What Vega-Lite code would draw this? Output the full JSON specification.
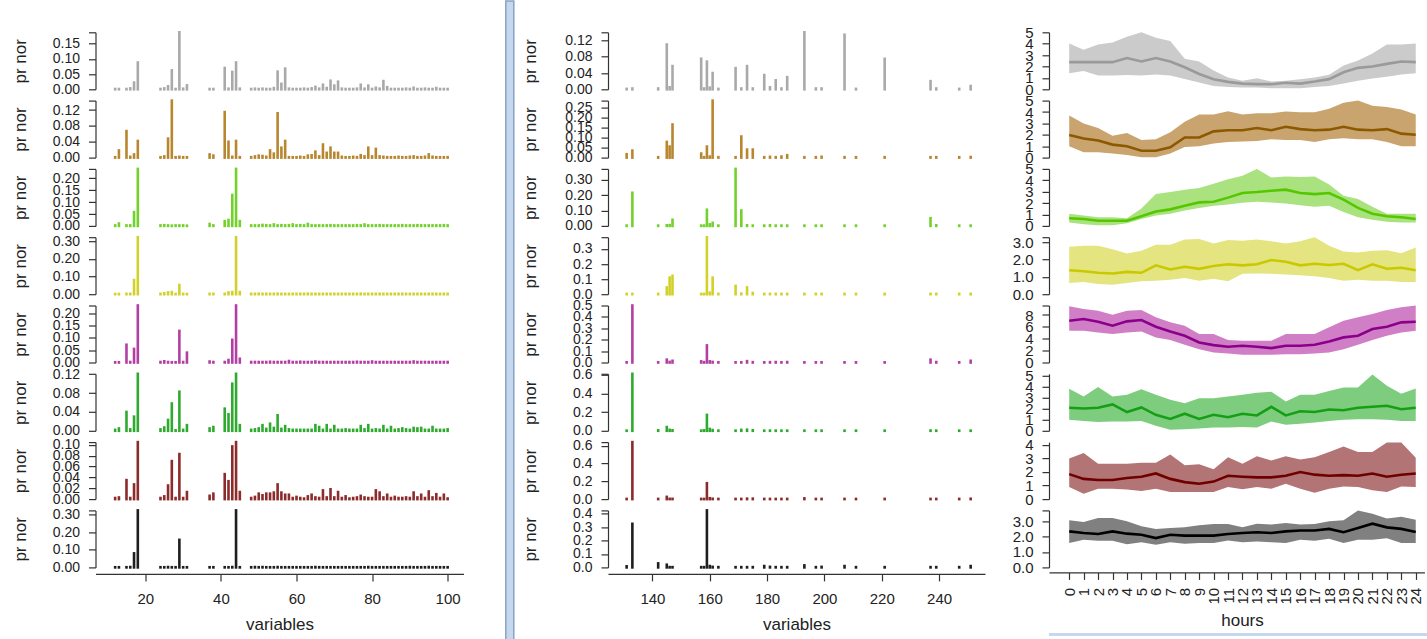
{
"$schema":"https://vega.github.io/schema/vega-lite/v6.json",
"background":"white",
"padding":{"left":11.5,"top":0,"right":0,"bottom":0},
"config":{
"font":"Liberation Sans",
"view":{"stroke":null},
"axis":{"grid":false,"labelOverlap":false,"labelFlush":false,"labelColor":"#222","titleColor":"#222","domainColor":"#333","tickColor":"#333","domainWidth":1.2,"tickWidth":1.2,"titleFontWeight":"normal","labelFont":"Liberation Sans","titleFont":"Liberation Sans"},
"axisY":{"labelOverlap":false,"labelFontSize":14,"titleFontSize":17,"tickSize":7,"labelPadding":9,"titleAngle":270,"titleAlign":"center","titleBaseline":"middle"},
"axisX":{"labelOverlap":false,"labelFontSize":15,"titleFontSize":17,"tickSize":7,"labelPadding":11,"titlePadding":10}
},
"datasets":{
"L":[
{"v":12,"r1":0.001,"r2":0.001,"r3":0.002,"r4":0.001,"r5":0.001,"r6":0.002,"r7":0.002,"r8":0.001},
{"v":13,"r1":0.001,"r2":0.018,"r3":0.01,"r4":0.001,"r5":0.001,"r6":0.005,"r7":0.003,"r8":0.001},
{"v":15,"r1":0.001,"r2":0.067,"r3":0.002,"r4":0.002,"r5":0.072,"r6":0.04,"r7":0.035,"r8":0.001},
{"v":16,"r1":0.003,"r2":0.002,"r3":0.002,"r4":0.002,"r5":0.002,"r6":0.003,"r7":0.002,"r8":0.002},
{"v":17,"r1":0.022,"r2":0.008,"r3":0.058,"r4":0.08,"r5":0.055,"r6":0.03,"r7":0.027,"r8":0.08},
{"v":18,"r1":0.088,"r2":0.042,"r3":0.24,"r4":0.323,"r5":0.231,"r6":0.121,"r7":0.105,"r8":0.325},
{"v":24,"r1":0.001,"r2":0.001,"r3":0.002,"r4":0.002,"r5":0.002,"r6":0.003,"r7":0.002,"r8":0.001},
{"v":25,"r1":0.003,"r2":0.003,"r3":0.003,"r4":0.005,"r5":0.005,"r6":0.007,"r7":0.005,"r8":0.001},
{"v":26,"r1":0.01,"r2":0.048,"r3":0.002,"r4":0.01,"r5":0.002,"r6":0.023,"r7":0.025,"r8":0.002},
{"v":27,"r1":0.062,"r2":0.144,"r3":0.001,"r4":0.012,"r5":0.001,"r6":0.058,"r7":0.07,"r8":0.001},
{"v":28,"r1":0.001,"r2":0.001,"r3":0.002,"r4":0.001,"r5":0.001,"r6":0.001,"r7":0.002,"r8":0.001},
{"v":29,"r1":0.187,"r2":0.002,"r3":0.002,"r4":0.052,"r5":0.128,"r6":0.083,"r7":0.083,"r8":0.157},
{"v":30,"r1":0.002,"r2":0.001,"r3":0.002,"r4":0.002,"r5":0.002,"r6":0.002,"r7":0.002,"r8":0.001},
{"v":31,"r1":0.013,"r2":0.001,"r3":0.001,"r4":0.001,"r5":0.04,"r6":0.012,"r7":0.013,"r8":0.001},
{"v":37,"r1":0.001,"r2":0.008,"r3":0.008,"r4":0.002,"r5":0.004,"r6":0.005,"r7":0.006,"r8":0.001},
{"v":38,"r1":0.001,"r2":0.005,"r3":0.002,"r4":0.002,"r5":0.002,"r6":0.008,"r7":0.01,"r8":0.001},
{"v":41,"r1":0.07,"r2":0.115,"r3":0.02,"r4":0.002,"r5":0.002,"r6":0.047,"r7":0.046,"r8":0.001},
{"v":42,"r1":0.002,"r2":0.04,"r3":0.025,"r4":0.01,"r5":0.01,"r6":0.035,"r7":0.033,"r8":0.001},
{"v":43,"r1":0.057,"r2":0.002,"r3":0.13,"r4":0.012,"r5":0.092,"r6":0.1,"r7":0.097,"r8":0.002},
{"v":44,"r1":0.088,"r2":0.042,"r3":0.24,"r4":0.323,"r5":0.231,"r6":0.121,"r7":0.105,"r8":0.325},
{"v":45,"r1":0.002,"r2":0.001,"r3":0.02,"r4":0.012,"r5":0.015,"r6":0.012,"r7":0.013,"r8":0.001},
{"v":48,"r1":0.001,"r2":0.001,"r3":0.002,"r4":0.002,"r5":0.002,"r6":0.002,"r7":0.002,"r8":0.001},
{"v":49,"r1":0.002,"r2":0.003,"r3":0.002,"r4":0.002,"r5":0.002,"r6":0.003,"r7":0.004,"r8":0.002},
{"v":50,"r1":0.001,"r2":0.005,"r3":0.002,"r4":0.003,"r5":0.002,"r6":0.005,"r7":0.01,"r8":0.001},
{"v":51,"r1":0.002,"r2":0.004,"r3":0.004,"r4":0.002,"r5":0.002,"r6":0.012,"r7":0.007,"r8":0.002},
{"v":52,"r1":0.001,"r2":0.002,"r3":0.003,"r4":0.002,"r5":0.002,"r6":0.004,"r7":0.01,"r8":0.001},
{"v":53,"r1":0.001,"r2":0.018,"r3":0.002,"r4":0.002,"r5":0.003,"r6":0.015,"r7":0.01,"r8":0.001},
{"v":54,"r1":0.004,"r2":0.01,"r3":0.006,"r4":0.002,"r5":0.002,"r6":0.006,"r7":0.012,"r8":0.001},
{"v":55,"r1":0.058,"r2":0.112,"r3":0.002,"r4":0.003,"r5":0.002,"r6":0.033,"r7":0.027,"r8":0.002},
{"v":56,"r1":0.018,"r2":0.025,"r3":0.003,"r4":0.002,"r5":0.002,"r6":0.004,"r7":0.012,"r8":0.001},
{"v":57,"r1":0.068,"r2":0.042,"r3":0.002,"r4":0.002,"r5":0.002,"r6":0.01,"r7":0.008,"r8":0.001},
{"v":58,"r1":0.002,"r2":0.001,"r3":0.003,"r4":0.002,"r5":0.006,"r6":0.003,"r7":0.008,"r8":0.001},
{"v":59,"r1":0.001,"r2":0.001,"r3":0.006,"r4":0.002,"r5":0.002,"r6":0.002,"r7":0.002,"r8":0.001},
{"v":60,"r1":0.001,"r2":0.001,"r3":0.002,"r4":0.002,"r5":0.002,"r6":0.002,"r7":0.004,"r8":0.001},
{"v":61,"r1":0.001,"r2":0.002,"r3":0.003,"r4":0.002,"r5":0.003,"r6":0.002,"r7":0.002,"r8":0.001},
{"v":62,"r1":0.002,"r2":0.001,"r3":0.002,"r4":0.002,"r5":0.002,"r6":0.002,"r7":0.001,"r8":0.001},
{"v":63,"r1":0.001,"r2":0.005,"r3":0.008,"r4":0.003,"r5":0.002,"r6":0.002,"r7":0.005,"r8":0.001},
{"v":64,"r1":0.003,"r2":0.006,"r3":0.002,"r4":0.002,"r5":0.002,"r6":0.002,"r7":0.008,"r8":0.001},
{"v":65,"r1":0.008,"r2":0.015,"r3":0.002,"r4":0.002,"r5":0.004,"r6":0.012,"r7":0.003,"r8":0.002},
{"v":66,"r1":0.002,"r2":0.003,"r3":0.002,"r4":0.002,"r5":0.002,"r6":0.008,"r7":0.002,"r8":0.001},
{"v":67,"r1":0.015,"r2":0.033,"r3":0.002,"r4":0.002,"r5":0.002,"r6":0.002,"r7":0.016,"r8":0.001},
{"v":68,"r1":0.004,"r2":0.012,"r3":0.002,"r4":0.002,"r5":0.002,"r6":0.012,"r7":0.003,"r8":0.001},
{"v":69,"r1":0.028,"r2":0.025,"r3":0.003,"r4":0.002,"r5":0.002,"r6":0.002,"r7":0.018,"r8":0.001},
{"v":70,"r1":0.012,"r2":0.012,"r3":0.002,"r4":0.002,"r5":0.002,"r6":0.01,"r7":0.003,"r8":0.001},
{"v":71,"r1":0.025,"r2":0.012,"r3":0.002,"r4":0.002,"r5":0.002,"r6":0.002,"r7":0.013,"r8":0.001},
{"v":72,"r1":0.002,"r2":0.002,"r3":0.002,"r4":0.002,"r5":0.002,"r6":0.002,"r7":0.002,"r8":0.001},
{"v":73,"r1":0.001,"r2":0.001,"r3":0.002,"r4":0.002,"r5":0.002,"r6":0.003,"r7":0.005,"r8":0.001},
{"v":74,"r1":0.001,"r2":0.001,"r3":0.002,"r4":0.002,"r5":0.002,"r6":0.002,"r7":0.001,"r8":0.001},
{"v":75,"r1":0.001,"r2":0.002,"r3":0.002,"r4":0.002,"r5":0.002,"r6":0.002,"r7":0.002,"r8":0.001},
{"v":76,"r1":0.002,"r2":0.001,"r3":0.003,"r4":0.002,"r5":0.003,"r6":0.002,"r7":0.003,"r8":0.001},
{"v":77,"r1":0.015,"r2":0.006,"r3":0.002,"r4":0.003,"r5":0.002,"r6":0.01,"r7":0.006,"r8":0.001},
{"v":78,"r1":0.002,"r2":0.003,"r3":0.006,"r4":0.002,"r5":0.002,"r6":0.003,"r7":0.003,"r8":0.001},
{"v":79,"r1":0.012,"r2":0.025,"r3":0.002,"r4":0.002,"r5":0.002,"r6":0.012,"r7":0.002,"r8":0.002},
{"v":80,"r1":0.001,"r2":0.003,"r3":0.002,"r4":0.002,"r5":0.004,"r6":0.002,"r7":0.002,"r8":0.001},
{"v":81,"r1":0.005,"r2":0.022,"r3":0.002,"r4":0.002,"r5":0.002,"r6":0.003,"r7":0.016,"r8":0.001},
{"v":82,"r1":0.002,"r2":0.003,"r3":0.003,"r4":0.002,"r5":0.002,"r6":0.002,"r7":0.012,"r8":0.001},
{"v":83,"r1":0.027,"r2":0.002,"r3":0.002,"r4":0.002,"r5":0.002,"r6":0.01,"r7":0.003,"r8":0.001},
{"v":84,"r1":0.007,"r2":0.001,"r3":0.002,"r4":0.002,"r5":0.002,"r6":0.002,"r7":0.008,"r8":0.001},
{"v":85,"r1":0.001,"r2":0.001,"r3":0.002,"r4":0.002,"r5":0.002,"r6":0.008,"r7":0.002,"r8":0.001},
{"v":86,"r1":0.001,"r2":0.001,"r3":0.002,"r4":0.002,"r5":0.002,"r6":0.002,"r7":0.004,"r8":0.001},
{"v":87,"r1":0.001,"r2":0.002,"r3":0.002,"r4":0.002,"r5":0.002,"r6":0.003,"r7":0.002,"r8":0.001},
{"v":88,"r1":0.001,"r2":0.001,"r3":0.003,"r4":0.002,"r5":0.002,"r6":0.005,"r7":0.002,"r8":0.001},
{"v":89,"r1":0.002,"r2":0.001,"r3":0.002,"r4":0.002,"r5":0.002,"r6":0.003,"r7":0.003,"r8":0.001},
{"v":90,"r1":0.001,"r2":0.002,"r3":0.002,"r4":0.002,"r5":0.002,"r6":0.002,"r7":0.002,"r8":0.002},
{"v":91,"r1":0.005,"r2":0.003,"r3":0.002,"r4":0.002,"r5":0.004,"r6":0.006,"r7":0.012,"r8":0.001},
{"v":92,"r1":0.001,"r2":0.001,"r3":0.003,"r4":0.002,"r5":0.002,"r6":0.005,"r7":0.003,"r8":0.001},
{"v":93,"r1":0.001,"r2":0.001,"r3":0.002,"r4":0.002,"r5":0.002,"r6":0.006,"r7":0.008,"r8":0.001},
{"v":94,"r1":0.002,"r2":0.002,"r3":0.002,"r4":0.002,"r5":0.002,"r6":0.002,"r7":0.002,"r8":0.001},
{"v":95,"r1":0.001,"r2":0.008,"r3":0.002,"r4":0.002,"r5":0.002,"r6":0.002,"r7":0.014,"r8":0.002},
{"v":96,"r1":0.001,"r2":0.002,"r3":0.002,"r4":0.002,"r5":0.002,"r6":0.008,"r7":0.003,"r8":0.001},
{"v":97,"r1":0.004,"r2":0.001,"r3":0.002,"r4":0.002,"r5":0.002,"r6":0.002,"r7":0.009,"r8":0.001},
{"v":98,"r1":0.001,"r2":0.001,"r3":0.002,"r4":0.002,"r5":0.002,"r6":0.002,"r7":0.002,"r8":0.001},
{"v":99,"r1":0.001,"r2":0.001,"r3":0.003,"r4":0.002,"r5":0.002,"r6":0.002,"r7":0.008,"r8":0.001},
{"v":100,"r1":0.001,"r2":0.001,"r3":0.002,"r4":0.002,"r5":0.002,"r6":0.003,"r7":0.001,"r8":0.001}
],
"M":[
{"v":131,"r1":0.001,"r2":0.017,"r3":0.002,"r4":0.002,"r5":0.002,"r6":0.002,"r7":0.002,"r8":0.008},
{"v":133,"r1":0.002,"r2":0.035,"r3":0.215,"r4":0.002,"r5":0.5,"r6":0.61,"r7":0.64,"r8":0.325},
{"v":142,"r1":0.002,"r2":0.002,"r3":0.002,"r4":0.002,"r5":0.002,"r6":0.005,"r7":0.002,"r8":0.03},
{"v":145,"r1":0.11,"r2":0.078,"r3":0.004,"r4":0.045,"r5":0.025,"r6":0.04,"r7":0.025,"r8":0.02},
{"v":146,"r1":0.005,"r2":0.055,"r3":0.005,"r4":0.11,"r5":0.005,"r6":0.01,"r7":0.003,"r8":0.002},
{"v":147,"r1":0.057,"r2":0.165,"r3":0.04,"r4":0.122,"r5":0.015,"r6":0.005,"r7":0.003,"r8":0.002},
{"v":157,"r1":0.075,"r2":0.02,"r3":0.002,"r4":0.002,"r5":0.01,"r6":0.002,"r7":0.002,"r8":0.002},
{"v":158,"r1":0.002,"r2":0.002,"r3":0.002,"r4":0.002,"r5":0.003,"r6":0.005,"r7":0.002,"r8":0.002},
{"v":159,"r1":0.068,"r2":0.055,"r3":0.105,"r4":0.378,"r5":0.15,"r6":0.17,"r7":0.178,"r8":0.425},
{"v":160,"r1":0.004,"r2":0.005,"r3":0.01,"r4":0.01,"r5":0.01,"r6":0.02,"r7":0.01,"r8":0.01},
{"v":161,"r1":0.04,"r2":0.284,"r3":0.02,"r4":0.11,"r5":0.005,"r6":0.008,"r7":0.004,"r8":0.004},
{"v":163,"r1":0.001,"r2":0.002,"r3":0.002,"r4":0.002,"r5":0.002,"r6":0.002,"r7":0.002,"r8":0.002},
{"v":169,"r1":0.052,"r2":0.002,"r3":0.37,"r4":0.055,"r5":0.002,"r6":0.002,"r7":0.002,"r8":0.002},
{"v":171,"r1":0.002,"r2":0.105,"r3":0.1,"r4":0.004,"r5":0.002,"r6":0.01,"r7":0.002,"r8":0.002},
{"v":173,"r1":0.057,"r2":0.04,"r3":0.004,"r4":0.045,"r5":0.012,"r6":0.012,"r7":0.005,"r8":0.002},
{"v":175,"r1":0.002,"r2":0.04,"r3":0.002,"r4":0.008,"r5":0.003,"r6":0.006,"r7":0.005,"r8":0.002},
{"v":179,"r1":0.035,"r2":0.002,"r3":0.002,"r4":0.002,"r5":0.002,"r6":0.002,"r7":0.002,"r8":0.01},
{"v":181,"r1":0.005,"r2":0.004,"r3":0.004,"r4":0.002,"r5":0.003,"r6":0.002,"r7":0.002,"r8":0.004},
{"v":183,"r1":0.022,"r2":0.002,"r3":0.002,"r4":0.002,"r5":0.004,"r6":0.002,"r7":0.002,"r8":0.002},
{"v":185,"r1":0.002,"r2":0.005,"r3":0.002,"r4":0.002,"r5":0.002,"r6":0.002,"r7":0.002,"r8":0.002},
{"v":187,"r1":0.03,"r2":0.012,"r3":0.002,"r4":0.002,"r5":0.004,"r6":0.002,"r7":0.002,"r8":0.002},
{"v":193,"r1":0.14,"r2":0.002,"r3":0.002,"r4":0.002,"r5":0.002,"r6":0.002,"r7":0.008,"r8":0.015},
{"v":197,"r1":0.002,"r2":0.002,"r3":0.002,"r4":0.002,"r5":0.002,"r6":0.002,"r7":0.002,"r8":0.002},
{"v":199,"r1":0.002,"r2":0.004,"r3":0.002,"r4":0.002,"r5":0.002,"r6":0.002,"r7":0.002,"r8":0.004},
{"v":207,"r1":0.134,"r2":0.002,"r3":0.002,"r4":0.002,"r5":0.002,"r6":0.002,"r7":0.002,"r8":0.01},
{"v":211,"r1":0.001,"r2":0.002,"r3":0.002,"r4":0.002,"r5":0.002,"r6":0.002,"r7":0.002,"r8":0.002},
{"v":221,"r1":0.075,"r2":0.002,"r3":0.002,"r4":0.002,"r5":0.002,"r6":0.002,"r7":0.002,"r8":0.002},
{"v":237,"r1":0.02,"r2":0.002,"r3":0.05,"r4":0.002,"r5":0.025,"r6":0.003,"r7":0.002,"r8":0.002},
{"v":239,"r1":0.002,"r2":0.002,"r3":0.004,"r4":0.002,"r5":0.004,"r6":0.002,"r7":0.002,"r8":0.002},
{"v":247,"r1":0.001,"r2":0.002,"r3":0.002,"r4":0.002,"r5":0.002,"r6":0.002,"r7":0.002,"r8":0.002},
{"v":251,"r1":0.008,"r2":0.003,"r3":0.002,"r4":0.002,"r5":0.015,"r6":0.002,"r7":0.004,"r8":0.01}
],
"H":[
{"h":0,"m1":2.38,"l1":1.4,"u1":4.02,"m2":1.98,"l2":0.99,"u2":3.7,"m3":0.67,"l3":0.3,"u3":1.06,"m4":1.39,"l4":0.65,"u4":2.75,"m5":7.04,"l5":5.35,"u5":9.46,"m6":2.1,"l6":1.0,"u6":3.84,"m7":1.84,"l7":0.89,"u7":3.0,"m8":2.34,"l8":1.58,"u8":3.06},
{"h":1,"m1":2.38,"l1":1.6,"u1":3.48,"m2":1.67,"l2":0.46,"u2":2.99,"m3":0.61,"l3":0.15,"u3":0.91,"m4":1.33,"l4":0.71,"u4":2.8,"m5":7.32,"l5":5.35,"u5":9.01,"m6":2.03,"l6":0.9,"u6":3.14,"m7":1.49,"l7":0.4,"u7":3.4,"m8":2.23,"l8":1.79,"u8":2.95},
{"h":2,"m1":2.38,"l1":1.2,"u1":3.93,"m2":1.5,"l2":0.46,"u2":2.59,"m3":0.45,"l3":0.06,"u3":0.76,"m4":1.24,"l4":0.59,"u4":2.8,"m5":6.87,"l5":5.07,"u5":8.73,"m6":2.1,"l6":0.8,"u6":4.0,"m7":1.41,"l7":0.77,"u7":2.6,"m8":2.17,"l8":1.73,"u8":3.2},
{"h":3,"m1":2.38,"l1":1.2,"u1":4.11,"m2":1.14,"l2":0.37,"u2":1.91,"m3":0.45,"l3":0.06,"u3":0.76,"m4":1.2,"l4":0.55,"u4":2.6,"m5":6.2,"l5":4.79,"u5":8.06,"m6":2.41,"l6":0.85,"u6":3.14,"m7":1.41,"l7":0.77,"u7":2.6,"m8":2.34,"l8":1.73,"u8":3.2},
{"h":4,"m1":2.74,"l1":1.25,"u1":4.61,"m2":1.0,"l2":0.22,"u2":2.16,"m3":0.45,"l3":0.24,"u3":0.67,"m4":1.29,"l4":0.65,"u4":2.35,"m5":6.93,"l5":5.07,"u5":8.73,"m6":1.71,"l6":0.85,"u6":3.3,"m7":1.56,"l7":0.7,"u7":2.6,"m8":2.19,"l8":1.51,"u8":3.0},
{"h":5,"m1":2.44,"l1":1.2,"u1":5.0,"m2":0.6,"l2":0.02,"u2":1.54,"m3":0.85,"l3":0.61,"u3":1.52,"m4":1.24,"l4":0.75,"u4":2.51,"m5":7.15,"l5":5.24,"u5":8.85,"m6":2.13,"l6":0.9,"u6":3.78,"m7":1.65,"l7":0.6,"u7":2.68,"m8":2.12,"l8":1.64,"u8":2.67},
{"h":6,"m1":2.74,"l1":1.3,"u1":4.52,"m2":0.6,"l2":0.02,"u2":1.6,"m3":1.27,"l3":0.91,"u3":2.79,"m4":1.67,"l4":0.78,"u4":2.86,"m5":6.03,"l5":4.23,"u5":7.61,"m6":1.46,"l6":0.45,"u6":3.3,"m7":1.89,"l7":0.77,"u7":2.68,"m8":1.9,"l8":1.47,"u8":2.5},
{"h":7,"m1":2.44,"l1":1.2,"u1":4.23,"m2":0.9,"l2":0.37,"u2":2.22,"m3":1.45,"l3":1.06,"u3":2.97,"m4":1.43,"l4":0.84,"u4":2.86,"m5":5.24,"l5":3.77,"u5":6.76,"m6":1.08,"l6":0.1,"u6":2.83,"m7":1.49,"l7":0.53,"u7":3.28,"m8":2.12,"l8":1.64,"u8":2.56},
{"h":8,"m1":1.93,"l1":0.9,"u1":2.68,"m2":1.76,"l2":0.93,"u2":3.15,"m3":1.76,"l3":1.36,"u3":3.18,"m4":1.59,"l4":0.94,"u4":3.16,"m5":4.51,"l5":2.99,"u5":6.2,"m6":1.56,"l6":0.15,"u6":2.51,"m7":1.25,"l7":0.53,"u7":2.5,"m8":2.06,"l8":1.53,"u8":2.6},
{"h":9,"m1":1.34,"l1":0.6,"u1":2.44,"m2":1.76,"l2":0.99,"u2":3.77,"m3":2.06,"l3":1.58,"u3":3.33,"m4":1.47,"l4":0.78,"u4":3.2,"m5":3.38,"l5":2.25,"u5":4.79,"m6":1.08,"l6":0.2,"u6":2.98,"m7":1.13,"l7":0.53,"u7":2.56,"m8":2.06,"l8":1.58,"u8":2.73},
{"h":10,"m1":0.89,"l1":0.3,"u1":1.64,"m2":2.3,"l2":1.23,"u2":3.77,"m3":2.12,"l3":1.76,"u3":3.7,"m4":1.63,"l4":0.9,"u4":2.94,"m5":2.93,"l5":1.69,"u5":4.79,"m6":1.46,"l6":0.3,"u6":2.98,"m7":1.29,"l7":0.53,"u7":2.2,"m8":2.06,"l8":1.58,"u8":2.82},
{"h":11,"m1":0.65,"l1":0.2,"u1":1.04,"m2":2.4,"l2":1.36,"u2":4.07,"m3":2.48,"l3":1.88,"u3":4.09,"m4":1.73,"l4":0.75,"u4":3.14,"m5":2.65,"l5":1.52,"u5":3.77,"m6":1.24,"l6":0.3,"u6":3.14,"m7":1.72,"l7":0.89,"u7":3.09,"m8":2.17,"l8":1.75,"u8":2.82},
{"h":12,"m1":0.5,"l1":0.15,"u1":0.74,"m2":2.4,"l2":1.42,"u2":3.77,"m3":2.88,"l3":2.03,"u3":4.39,"m4":1.67,"l4":1.18,"u4":3.1,"m5":2.82,"l5":1.3,"u5":3.66,"m6":1.56,"l6":0.35,"u6":3.3,"m7":1.65,"l7":0.72,"u7":2.6,"m8":2.23,"l8":1.64,"u8":2.6},
{"h":13,"m1":0.45,"l1":0.15,"u1":0.98,"m2":2.6,"l2":1.45,"u2":3.89,"m3":2.97,"l3":2.12,"u3":5.0,"m4":1.73,"l4":1.2,"u4":3.16,"m5":2.65,"l5":1.3,"u5":3.66,"m6":1.4,"l6":0.3,"u6":3.46,"m7":1.6,"l7":0.89,"u7":3.16,"m8":2.28,"l8":1.68,"u8":2.84},
{"h":14,"m1":0.45,"l1":0.1,"u1":0.68,"m2":2.4,"l2":1.6,"u2":3.89,"m3":3.09,"l3":2.06,"u3":4.24,"m4":1.98,"l4":1.18,"u4":3.06,"m5":2.42,"l5":1.3,"u5":3.66,"m6":2.19,"l6":0.85,"u6":3.56,"m7":1.6,"l7":0.77,"u7":2.85,"m8":2.23,"l8":1.64,"u8":2.78},
{"h":15,"m1":0.57,"l1":0.1,"u1":0.74,"m2":2.7,"l2":1.54,"u2":4.04,"m3":3.18,"l3":1.97,"u3":4.33,"m4":1.88,"l4":1.14,"u4":2.94,"m5":2.82,"l5":1.41,"u5":4.79,"m6":1.4,"l6":0.55,"u6":2.67,"m7":1.72,"l7":1.13,"u7":3.16,"m8":2.34,"l8":1.58,"u8":2.89},
{"h":16,"m1":0.5,"l1":0.1,"u1":0.89,"m2":2.5,"l2":1.54,"u2":3.98,"m3":2.88,"l3":1.82,"u3":4.3,"m4":1.67,"l4":1.1,"u4":3.06,"m5":2.82,"l5":1.41,"u5":4.79,"m6":1.78,"l6":0.65,"u6":3.3,"m7":2.0,"l7":0.77,"u7":2.92,"m8":2.4,"l8":1.79,"u8":2.78},
{"h":17,"m1":0.68,"l1":0.2,"u1":1.04,"m2":2.4,"l2":1.36,"u2":3.98,"m3":2.79,"l3":1.67,"u3":4.33,"m4":1.76,"l4":1.04,"u4":3.29,"m5":2.99,"l5":1.52,"u5":4.79,"m6":1.71,"l6":0.75,"u6":3.3,"m7":1.8,"l7":0.46,"u7":3.09,"m8":2.4,"l8":1.73,"u8":2.82},
{"h":18,"m1":0.89,"l1":0.3,"u1":1.28,"m2":2.45,"l2":1.6,"u2":4.29,"m3":2.88,"l3":1.76,"u3":3.64,"m4":1.69,"l4":0.94,"u4":2.8,"m5":3.55,"l5":1.69,"u5":5.92,"m6":1.94,"l6":0.9,"u6":3.62,"m7":1.72,"l7":0.77,"u7":3.47,"m8":2.5,"l8":1.86,"u8":3.0},
{"h":19,"m1":1.49,"l1":0.5,"u1":2.08,"m2":2.7,"l2":1.7,"u2":4.81,"m3":2.3,"l3":1.21,"u3":2.65,"m4":1.76,"l4":0.78,"u4":2.47,"m5":4.23,"l5":2.25,"u5":7.04,"m6":1.87,"l6":1.0,"u6":3.94,"m7":1.77,"l7":0.93,"u7":3.88,"m8":2.28,"l8":1.58,"u8":3.06},
{"h":20,"m1":1.88,"l1":0.75,"u1":2.53,"m2":2.45,"l2":1.6,"u2":5.0,"m3":1.58,"l3":0.76,"u3":2.36,"m4":1.39,"l4":0.84,"u4":2.41,"m5":4.51,"l5":2.99,"u5":7.61,"m6":2.1,"l6":1.05,"u6":3.94,"m7":1.72,"l7":0.89,"u7":3.47,"m8":2.56,"l8":1.79,"u8":3.7},
{"h":21,"m1":2.0,"l1":0.95,"u1":3.13,"m2":2.4,"l2":1.6,"u2":4.54,"m3":1.06,"l3":0.55,"u3":1.67,"m4":1.73,"l4":0.78,"u4":2.51,"m5":5.63,"l5":3.77,"u5":8.17,"m6":2.19,"l6":1.05,"u6":5.14,"m7":1.89,"l7":0.65,"u7":3.47,"m8":2.84,"l8":1.79,"u8":3.48},
{"h":22,"m1":2.23,"l1":1.1,"u1":3.93,"m2":2.5,"l2":1.36,"u2":4.44,"m3":0.85,"l3":0.36,"u3":1.06,"m4":1.47,"l4":0.78,"u4":2.55,"m5":6.03,"l5":4.51,"u5":8.85,"m6":2.29,"l6":1.0,"u6":4.1,"m7":1.65,"l7":0.53,"u7":4.17,"m8":2.6,"l8":1.9,"u8":3.17},
{"h":23,"m1":2.44,"l1":1.3,"u1":3.93,"m2":2.1,"l2":0.99,"u2":4.23,"m3":0.76,"l3":0.3,"u3":1.06,"m4":1.53,"l4":0.71,"u4":2.37,"m5":6.76,"l5":5.07,"u5":9.3,"m6":1.97,"l6":0.9,"u6":3.37,"m7":1.8,"l7":0.93,"u7":4.17,"m8":2.5,"l8":1.58,"u8":3.28},
{"h":24,"m1":2.38,"l1":1.4,"u1":4.02,"m2":2.0,"l2":0.99,"u2":3.77,"m3":0.61,"l3":0.3,"u3":1.06,"m4":1.39,"l4":0.71,"u4":2.71,"m5":6.87,"l5":5.35,"u5":9.58,"m6":2.1,"l6":0.9,"u6":3.87,"m7":1.89,"l7":0.89,"u7":3.04,"m8":2.3,"l8":1.58,"u8":3.1}
]
},
"resolve":{"scale":{"x":"independent","y":"independent"}},
"spacing":26.5,
"hconcat":[
{"resolve":{"scale":{"x":"independent","y":"independent"}},"spacing":5.5,"hconcat":[
{"resolve":{"scale":{"x":"independent","y":"independent"}},"spacing":41.3,"hconcat":[
{"vconcat":[
{"width":10,"height":19.7,"data":{"values":[{"a":1}]},"mark":{"type":"text","text":""},"encoding":{}},
{"width":368,"height":57,"data":{"name":"L"},"mark":{"type":"rule","strokeWidth":2.6,"strokeCap":"square","color":"#a9a9a9"},"encoding":{"x":{"field":"v","type":"quantitative","scale":{"domain":[6.8,104.2],"nice":false,"zero":false},"axis":null},"y":{"field":"r1","type":"quantitative","scale":{"domain":[0,0.187],"nice":false},"axis":{"title":"pr nor","labelOverlap":false,"values":[0,0.05,0.1,0.15,0.187],"format":".2f","labelExpr":"datum.value > 0.16 ? '' : datum.label","titleX":-74.7,"titleY":28.5}},"y2":{"datum":0}}},
{"width":368,"height":57,"data":{"name":"L"},"mark":{"type":"rule","strokeWidth":2.6,"strokeCap":"square","color":"#b8862e"},"encoding":{"x":{"field":"v","type":"quantitative","scale":{"domain":[6.8,104.2],"nice":false,"zero":false},"axis":null},"y":{"field":"r2","type":"quantitative","scale":{"domain":[0,0.144],"nice":false},"axis":{"title":"pr nor","labelOverlap":false,"values":[0,0.04,0.08,0.12,0.144],"format":".2f","labelExpr":"datum.value > 0.13 ? '' : datum.label","titleX":-74.7,"titleY":28.5}},"y2":{"datum":0}}},
{"width":368,"height":57,"data":{"name":"L"},"mark":{"type":"rule","strokeWidth":2.6,"strokeCap":"square","color":"#72d12a"},"encoding":{"x":{"field":"v","type":"quantitative","scale":{"domain":[6.8,104.2],"nice":false,"zero":false},"axis":null},"y":{"field":"r3","type":"quantitative","scale":{"domain":[0,0.24],"nice":false},"axis":{"title":"pr nor","labelOverlap":false,"values":[0,0.05,0.1,0.15,0.2,0.24],"format":".2f","labelExpr":"datum.value > 0.21 ? '' : datum.label","titleX":-74.7,"titleY":28.5}},"y2":{"datum":0}}},
{"width":368,"height":57,"data":{"name":"L"},"mark":{"type":"rule","strokeWidth":2.6,"strokeCap":"square","color":"#d1d12a"},"encoding":{"x":{"field":"v","type":"quantitative","scale":{"domain":[6.8,104.2],"nice":false,"zero":false},"axis":null},"y":{"field":"r4","type":"quantitative","scale":{"domain":[0,0.323],"nice":false},"axis":{"title":"pr nor","labelOverlap":false,"values":[0,0.1,0.2,0.3,0.323],"format":".2f","labelExpr":"datum.value > 0.31 ? '' : datum.label","titleX":-74.7,"titleY":28.5}},"y2":{"datum":0}}},
{"width":368,"height":57,"data":{"name":"L"},"mark":{"type":"rule","strokeWidth":2.6,"strokeCap":"square","color":"#b23fa3"},"encoding":{"x":{"field":"v","type":"quantitative","scale":{"domain":[6.8,104.2],"nice":false,"zero":false},"axis":null},"y":{"field":"r5","type":"quantitative","scale":{"domain":[0,0.231],"nice":false},"axis":{"title":"pr nor","labelOverlap":false,"values":[0,0.05,0.1,0.15,0.2,0.231],"format":".2f","labelExpr":"datum.value > 0.21 ? '' : datum.label","titleX":-74.7,"titleY":28.5}},"y2":{"datum":0}}},
{"width":368,"height":57,"data":{"name":"L"},"mark":{"type":"rule","strokeWidth":2.6,"strokeCap":"square","color":"#2eab2e"},"encoding":{"x":{"field":"v","type":"quantitative","scale":{"domain":[6.8,104.2],"nice":false,"zero":false},"axis":null},"y":{"field":"r6","type":"quantitative","scale":{"domain":[0,0.121],"nice":false},"axis":{"title":"pr nor","labelOverlap":false,"values":[0,0.04,0.08,0.12],"format":".2f","titleX":-74.7,"titleY":28.5}},"y2":{"datum":0}}},
{"width":368,"height":57,"data":{"name":"L"},"mark":{"type":"rule","strokeWidth":2.6,"strokeCap":"square","color":"#8c2b2b"},"encoding":{"x":{"field":"v","type":"quantitative","scale":{"domain":[6.8,104.2],"nice":false,"zero":false},"axis":null},"y":{"field":"r7","type":"quantitative","scale":{"domain":[0,0.105],"nice":false},"axis":{"title":"pr nor","labelOverlap":false,"values":[0,0.02,0.04,0.06,0.08,0.1,0.105],"format":".2f","labelExpr":"datum.value > 0.101 ? '' : datum.label","titleX":-74.7,"titleY":28.5}},"y2":{"datum":0}}},
{"width":368,"height":57,"data":{"name":"L"},"mark":{"type":"rule","strokeWidth":2.6,"strokeCap":"square","color":"#1e1e1e"},"encoding":{"x":{"field":"v","type":"quantitative","scale":{"domain":[6.8,104.2],"nice":false,"zero":false},"axis":{"values":[20,40,60,80,100],"title":"variables","offset":6.5,"labelOverlap":false}},"y":{"field":"r8","type":"quantitative","scale":{"domain":[0,0.325],"nice":false},"axis":{"title":"pr nor","labelOverlap":false,"values":[0,0.1,0.2,0.3,0.325],"format":".2f","labelExpr":"datum.value > 0.31 ? '' : datum.label","titleX":-74.7,"titleY":28.5}},"y2":{"datum":0}}}
],"spacing":11.3,"bounds":"flush","resolve":{"scale":{"x":"independent","y":"independent"}}},
{"width":8,"height":639,"data":{"values":[{"a":1}]},"mark":{"type":"text","text":""},"encoding":{},"view":{"fill":"#c5d8ef","stroke":"#8aa3c2","strokeWidth":1.5}}
]},
{"vconcat":[
{"width":10,"height":19.7,"data":{"values":[{"a":1}]},"mark":{"type":"text","text":""},"encoding":{}},
{"width":377,"height":57,"data":{"name":"M"},"mark":{"type":"rule","strokeWidth":2.6,"strokeCap":"square","color":"#a9a9a9"},"encoding":{"x":{"field":"v","type":"quantitative","scale":{"domain":[124.5,256],"nice":false,"zero":false},"axis":null},"y":{"field":"r1","type":"quantitative","scale":{"domain":[0,0.14],"nice":false},"axis":{"title":"pr nor","labelOverlap":false,"values":[0,0.04,0.08,0.12,0.14],"format":".2f","labelExpr":"datum.value > 0.13 ? '' : datum.label","titleX":-77.7,"titleY":28.5}},"y2":{"datum":0}}},
{"width":377,"height":57,"data":{"name":"M"},"mark":{"type":"rule","strokeWidth":2.6,"strokeCap":"square","color":"#b8862e"},"encoding":{"x":{"field":"v","type":"quantitative","scale":{"domain":[124.5,256],"nice":false,"zero":false},"axis":null},"y":{"field":"r2","type":"quantitative","scale":{"domain":[0,0.284],"nice":false},"axis":{"title":"pr nor","labelOverlap":false,"values":[0,0.05,0.1,0.15,0.2,0.25,0.284],"format":".2f","labelExpr":"datum.value > 0.26 ? '' : datum.label","titleX":-77.7,"titleY":28.5}},"y2":{"datum":0}}},
{"width":377,"height":57,"data":{"name":"M"},"mark":{"type":"rule","strokeWidth":2.6,"strokeCap":"square","color":"#72d12a"},"encoding":{"x":{"field":"v","type":"quantitative","scale":{"domain":[124.5,256],"nice":false,"zero":false},"axis":null},"y":{"field":"r3","type":"quantitative","scale":{"domain":[0,0.37],"nice":false},"axis":{"title":"pr nor","labelOverlap":false,"values":[0,0.1,0.2,0.3,0.37],"format":".2f","labelExpr":"datum.value > 0.31 ? '' : datum.label","titleX":-77.7,"titleY":28.5}},"y2":{"datum":0}}},
{"width":377,"height":57,"data":{"name":"M"},"mark":{"type":"rule","strokeWidth":2.6,"strokeCap":"square","color":"#d1d12a"},"encoding":{"x":{"field":"v","type":"quantitative","scale":{"domain":[124.5,256],"nice":false,"zero":false},"axis":null},"y":{"field":"r4","type":"quantitative","scale":{"domain":[0,0.378],"nice":false},"axis":{"title":"pr nor","labelOverlap":false,"values":[0,0.1,0.2,0.3,0.378],"format":".1f","labelExpr":"datum.value > 0.31 ? '' : datum.label","titleX":-77.7,"titleY":28.5}},"y2":{"datum":0}}},
{"width":377,"height":57,"data":{"name":"M"},"mark":{"type":"rule","strokeWidth":2.6,"strokeCap":"square","color":"#b23fa3"},"encoding":{"x":{"field":"v","type":"quantitative","scale":{"domain":[124.5,256],"nice":false,"zero":false},"axis":null},"y":{"field":"r5","type":"quantitative","scale":{"domain":[0,0.5],"nice":false},"axis":{"title":"pr nor","labelOverlap":false,"values":[0,0.1,0.2,0.3,0.4,0.5],"format":".1f","titleX":-77.7,"titleY":28.5}},"y2":{"datum":0}}},
{"width":377,"height":57,"data":{"name":"M"},"mark":{"type":"rule","strokeWidth":2.6,"strokeCap":"square","color":"#2eab2e"},"encoding":{"x":{"field":"v","type":"quantitative","scale":{"domain":[124.5,256],"nice":false,"zero":false},"axis":null},"y":{"field":"r6","type":"quantitative","scale":{"domain":[0,0.61],"nice":false},"axis":{"title":"pr nor","labelOverlap":false,"values":[0,0.2,0.4,0.6,0.61],"format":".1f","labelExpr":"datum.value > 0.605 ? '' : datum.label","titleX":-77.7,"titleY":28.5}},"y2":{"datum":0}}},
{"width":377,"height":57,"data":{"name":"M"},"mark":{"type":"rule","strokeWidth":2.6,"strokeCap":"square","color":"#8c2b2b"},"encoding":{"x":{"field":"v","type":"quantitative","scale":{"domain":[124.5,256],"nice":false,"zero":false},"axis":null},"y":{"field":"r7","type":"quantitative","scale":{"domain":[0,0.64],"nice":false},"axis":{"title":"pr nor","labelOverlap":false,"values":[0,0.2,0.4,0.6,0.64],"format":".1f","labelExpr":"datum.value > 0.61 ? '' : datum.label","titleX":-77.7,"titleY":28.5}},"y2":{"datum":0}}},
{"width":377,"height":57,"data":{"name":"M"},"mark":{"type":"rule","strokeWidth":2.6,"strokeCap":"square","color":"#1e1e1e"},"encoding":{"x":{"field":"v","type":"quantitative","scale":{"domain":[124.5,256],"nice":false,"zero":false},"axis":{"values":[140,160,180,200,220,240],"title":"variables","offset":6.5,"labelOverlap":false}},"y":{"field":"r8","type":"quantitative","scale":{"domain":[0,0.425],"nice":false},"axis":{"title":"pr nor","labelOverlap":false,"values":[0,0.1,0.2,0.3,0.4,0.425],"format":".1f","labelExpr":"datum.value > 0.41 ? '' : datum.label","titleX":-77.7,"titleY":28.5}},"y2":{"datum":0}}}
],"spacing":11.3,"bounds":"flush","resolve":{"scale":{"x":"independent","y":"independent"}}}
]},
{"vconcat":[
{"width":10,"height":19.7,"data":{"values":[{"a":1}]},"mark":{"type":"text","text":""},"encoding":{}},
{"width":375.4,"height":57,"data":{"name":"H"},"encoding":{"x":{"field":"h","type":"quantitative","scale":{"domain":[-1.4,24.6],"nice":false,"zero":false},"axis":null}},"layer":[
{"mark":{"type":"area","color":"#cbcbcb"},"encoding":{"y":{"field":"l1","type":"quantitative","scale":{"domain":[0,5],"nice":false},"axis":{"title":null,"labelOverlap":false,"values":[0,1,2,3,4,5],"format":"d","labelFontSize":15}},"y2":{"field":"u1"}}},
{"mark":{"type":"line","color":"#9a9a9a","strokeWidth":2.6},"encoding":{"y":{"field":"m1","type":"quantitative","scale":{"domain":[0,5],"nice":false},"axis":{"title":null,"labelOverlap":false,"values":[0,1,2,3,4,5],"format":"d","labelFontSize":15}}}}]},
{"width":375.4,"height":57,"data":{"name":"H"},"encoding":{"x":{"field":"h","type":"quantitative","scale":{"domain":[-1.4,24.6],"nice":false,"zero":false},"axis":null}},"layer":[
{"mark":{"type":"area","color":"#c9a46f"},"encoding":{"y":{"field":"l2","type":"quantitative","scale":{"domain":[0,5],"nice":false},"axis":{"title":null,"labelOverlap":false,"values":[0,1,2,3,4,5],"format":"d","labelFontSize":15}},"y2":{"field":"u2"}}},
{"mark":{"type":"line","color":"#8b5a00","strokeWidth":2.6},"encoding":{"y":{"field":"m2","type":"quantitative","scale":{"domain":[0,5],"nice":false},"axis":{"title":null,"labelOverlap":false,"values":[0,1,2,3,4,5],"format":"d","labelFontSize":15}}}}]},
{"width":375.4,"height":57,"data":{"name":"H"},"encoding":{"x":{"field":"h","type":"quantitative","scale":{"domain":[-1.4,24.6],"nice":false,"zero":false},"axis":null}},"layer":[
{"mark":{"type":"area","color":"#a9e27e"},"encoding":{"y":{"field":"l3","type":"quantitative","scale":{"domain":[0,5],"nice":false},"axis":{"title":null,"labelOverlap":false,"values":[0,1,2,3,4,5],"format":"d","labelFontSize":15}},"y2":{"field":"u3"}}},
{"mark":{"type":"line","color":"#55c700","strokeWidth":2.6},"encoding":{"y":{"field":"m3","type":"quantitative","scale":{"domain":[0,5],"nice":false},"axis":{"title":null,"labelOverlap":false,"values":[0,1,2,3,4,5],"format":"d","labelFontSize":15}}}}]},
{"width":375.4,"height":57,"data":{"name":"H"},"encoding":{"x":{"field":"h","type":"quantitative","scale":{"domain":[-1.4,24.6],"nice":false,"zero":false},"axis":null}},"layer":[
{"mark":{"type":"area","color":"#e4e480"},"encoding":{"y":{"field":"l4","type":"quantitative","scale":{"domain":[0,3.3],"nice":false},"axis":{"title":null,"labelOverlap":false,"values":[0,1,2,3,3.3],"format":".1f","labelExpr":"datum.value > 3.1 ? '' : datum.label","labelFontSize":15}},"y2":{"field":"u4"}}},
{"mark":{"type":"line","color":"#c9c900","strokeWidth":2.6},"encoding":{"y":{"field":"m4","type":"quantitative","scale":{"domain":[0,3.3],"nice":false},"axis":{"title":null,"labelOverlap":false,"values":[0,1,2,3,3.3],"format":".1f","labelExpr":"datum.value > 3.1 ? '' : datum.label","labelFontSize":15}}}}]},
{"width":375.4,"height":57,"data":{"name":"H"},"encoding":{"x":{"field":"h","type":"quantitative","scale":{"domain":[-1.4,24.6],"nice":false,"zero":false},"axis":null}},"layer":[
{"mark":{"type":"area","color":"#d07fc6"},"encoding":{"y":{"field":"l5","type":"quantitative","scale":{"domain":[0,9.6],"nice":false},"axis":{"title":null,"labelOverlap":false,"values":[0,2,4,6,8,9.6],"format":"d","labelExpr":"datum.value > 8.5 ? '' : datum.label","labelFontSize":15}},"y2":{"field":"u5"}}},
{"mark":{"type":"line","color":"#8b008b","strokeWidth":2.6},"encoding":{"y":{"field":"m5","type":"quantitative","scale":{"domain":[0,9.6],"nice":false},"axis":{"title":null,"labelOverlap":false,"values":[0,2,4,6,8,9.6],"format":"d","labelExpr":"datum.value > 8.5 ? '' : datum.label","labelFontSize":15}}}}]},
{"width":375.4,"height":57,"data":{"name":"H"},"encoding":{"x":{"field":"h","type":"quantitative","scale":{"domain":[-1.4,24.6],"nice":false,"zero":false},"axis":null}},"layer":[
{"mark":{"type":"area","color":"#7ecc7e"},"encoding":{"y":{"field":"l6","type":"quantitative","scale":{"domain":[0,5.2],"nice":false},"axis":{"title":null,"labelOverlap":false,"values":[0,1,2,3,4,5],"format":"d","labelFontSize":15}},"y2":{"field":"u6"}}},
{"mark":{"type":"line","color":"#169f16","strokeWidth":2.6},"encoding":{"y":{"field":"m6","type":"quantitative","scale":{"domain":[0,5.2],"nice":false},"axis":{"title":null,"labelOverlap":false,"values":[0,1,2,3,4,5],"format":"d","labelFontSize":15}}}}]},
{"width":375.4,"height":57,"data":{"name":"H"},"encoding":{"x":{"field":"h","type":"quantitative","scale":{"domain":[-1.4,24.6],"nice":false,"zero":false},"axis":null}},"layer":[
{"mark":{"type":"area","color":"#b27474"},"encoding":{"y":{"field":"l7","type":"quantitative","scale":{"domain":[0,4.2],"nice":false},"axis":{"title":null,"labelOverlap":false,"values":[0,1,2,3,4],"format":"d","labelFontSize":15}},"y2":{"field":"u7"}}},
{"mark":{"type":"line","color":"#6e0000","strokeWidth":2.6},"encoding":{"y":{"field":"m7","type":"quantitative","scale":{"domain":[0,4.2],"nice":false},"axis":{"title":null,"labelOverlap":false,"values":[0,1,2,3,4],"format":"d","labelFontSize":15}}}}]},
{"width":375.4,"height":57,"data":{"name":"H"},"encoding":{"x":{"field":"h","type":"quantitative","scale":{"domain":[-1.4,24.6],"nice":false,"zero":false},"axis":{"values":[0,1,2,3,4,5,6,7,8,9,10,11,12,13,14,15,16,17,18,19,20,21,22,23,24],"labelAngle":270,"labelOverlap":false,"title":"hours","offset":5,"tickSize":7,"labelPadding":8,"labelFontSize":15,"titleFontSize":17,"titleX":193,"titlePadding":8}}},"layer":[
{"mark":{"type":"area","color":"#808080"},"encoding":{"y":{"field":"l8","type":"quantitative","scale":{"domain":[0,3.7],"nice":false},"axis":{"title":null,"labelOverlap":false,"values":[0,1,2,3,3.7],"format":".1f","labelExpr":"datum.value > 3.1 ? '' : datum.label","labelFontSize":15}},"y2":{"field":"u8"}}},
{"mark":{"type":"line","color":"#000000","strokeWidth":2.6},"encoding":{"y":{"field":"m8","type":"quantitative","scale":{"domain":[0,3.7],"nice":false},"axis":{"title":null,"labelOverlap":false,"values":[0,1,2,3,3.7],"format":".1f","labelExpr":"datum.value > 3.1 ? '' : datum.label","labelFontSize":15}}}}]},
{"width":10,"height":42.1,"data":{"values":[{"a":1}]},"mark":{"type":"text","text":""},"encoding":{}},
{"width":380,"height":3,"data":{"values":[{"a":1}]},"mark":{"type":"text","text":""},"encoding":{},"view":{"fill":"#c5d8ef","stroke":null}}
],"spacing":11.3,"bounds":"flush","resolve":{"scale":{"x":"independent","y":"independent"}}}
]
}
